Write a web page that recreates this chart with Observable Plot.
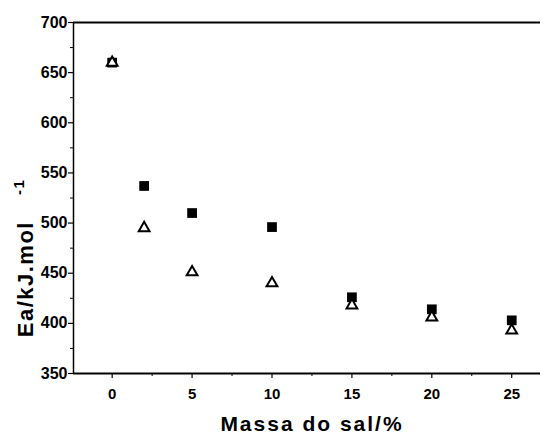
<!DOCTYPE html>
<html><head><meta charset="utf-8">
<script src="https://cdn.jsdelivr.net/npm/d3@7"></script>
<script src="https://cdn.jsdelivr.net/npm/@observablehq/plot@0.6"></script>
<style>body{margin:0;background:#fff}</style>
</head><body><div id="chart"></div>
<script>
const massa = [0, 2, 5, 10, 15, 20, 25];
const quadrados = [660, 537, 510, 496, 426, 414, 403];
const triangulos = [660, 495, 451, 440, 418, 406, 393];
const xTicks = [0, 5, 10, 15, 20, 25];
const xMinor = [-2.5, 2.5, 7.5, 12.5, 17.5, 22.5];
const yTicks = [350, 400, 450, 500, 550, 600, 650, 700];
const yMinor = [375, 425, 475, 525, 575, 625, 675];
const xDomain = [-2.42, 26.8];
const yDomain = [350, 700];

const sq = massa.map((m, i) => ({x: m, y: quadrados[i]}));
const tr = massa.map((m, i) => ({x: m, y: triangulos[i]}));
const font = "Liberation Sans, Arial, sans-serif";

const plot = Plot.plot({
  width: 546, height: 436,
  marginLeft: 73, marginRight: 6, marginTop: 22, marginBottom: 63,
  style: {fontFamily: font, background: "#fff", color: "#000"},
  x: {domain: xDomain},
  y: {domain: yDomain},
  marks: [
    Plot.ruleY([yDomain[0], yDomain[1]], {stroke: "#000", strokeWidth: 2}),
    Plot.ruleX([xDomain[0]], {stroke: "#000", strokeWidth: 1.5}),
    Plot.axisX({ticks: xTicks, tickSize: 5, tickPadding: 10, fontSize: 15, fontWeight: "bold", label: null, strokeWidth: 1.2}),
    Plot.axisX({ticks: xMinor.filter(v => v > xDomain[0]), tickSize: 3, tickFormat: () => "", label: null}),
    Plot.axisY({ticks: yTicks, tickSize: 5, tickPadding: 1, fontSize: 16, fontWeight: "bold", label: null, strokeWidth: 1.2}),
    Plot.axisY({ticks: yMinor, tickSize: 3, tickFormat: () => "", label: null}),
    Plot.dot(sq, {x: "x", y: "y", symbol: "square", fill: "#000", r: 5.5}),
    Plot.dot(tr, {x: "x", y: "y", symbol: "triangle", stroke: "#000", fill: "#fff", strokeWidth: 2, r: 4})
  ]
});

const svg = d3.select(plot);
svg.append("text")
  .attr("x", 312).attr("y", 431)
  .attr("text-anchor", "middle")
  .attr("font-family", font).attr("font-size", 21).attr("font-weight", "bold")
  .attr("letter-spacing", 2)
  .text("Massa do sal/%");
const yl = svg.append("text")
  .attr("transform", "translate(33,258) rotate(-90)")
  .attr("text-anchor", "middle")
  .attr("font-family", font).attr("font-size", 22).attr("font-weight", "bold")
  .attr("letter-spacing", 1.5);
yl.append("tspan").text("Ea/kJ.mol");
yl.append("tspan").attr("dx", 26).attr("dy", -9).attr("font-size", 15).text("-1");

document.getElementById("chart").appendChild(plot);
</script>
</body></html>
